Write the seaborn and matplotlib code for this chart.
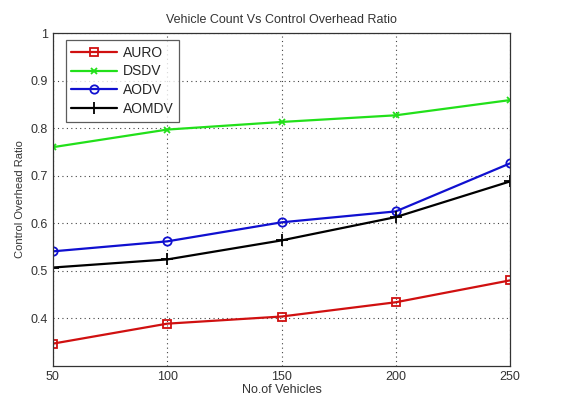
import matplotlib
matplotlib.use("Agg")
import matplotlib.pyplot as plt
import seaborn as sns
import pandas as pd

vehicles = [50, 100, 150, 200, 250]
auro = [0.347, 0.389, 0.404, 0.434, 0.480]
dsdv = [0.760, 0.797, 0.813, 0.827, 0.859]
aodv = [0.541, 0.562, 0.602, 0.625, 0.726]
aomdv = [0.507, 0.524, 0.564, 0.613, 0.688]
series_names = ["AURO", "DSDV", "AODV", "AOMDV"]

sns.set_theme(style="white")
plt.rcParams['font.family'] = ['Liberation Sans', 'DejaVu Sans']

df = pd.DataFrame({
    "x": vehicles * 4,
    "y": auro + dsdv + aodv + aomdv,
    "protocol": sum([[n] * len(vehicles) for n in series_names], []),
})

colors = {"AURO": "#d01010", "DSDV": "#22e01a", "AODV": "#1010d0", "AOMDV": "#000000"}
markers = {"AURO": "s", "DSDV": "x", "AODV": "o", "AOMDV": "+"}
msizes = {"AURO": 6, "DSDV": 4, "AODV": 6, "AOMDV": 8}

fig = plt.figure(figsize=(5.63, 4.0), dpi=100)
ax = fig.add_axes([0.094, 0.085, 0.812, 0.8325])

for name in series_names:
    sub = df[df.protocol == name]
    sns.lineplot(data=sub, x="x", y="y", ax=ax, color=colors[name], marker=markers[name],
                 markersize=msizes[name], markerfacecolor="none",
                 markeredgecolor=colors[name], markeredgewidth=1.3, linewidth=1.6, label=name)

ax.set_xlim(50, 250)
ax.set_ylim(0.3, 1.0)
ax.set_xticks(vehicles)
ax.set_yticks([0.4, 0.5, 0.6, 0.7, 0.8, 0.9, 1.0])
ax.set_yticklabels(["0.4", "0.5", "0.6", "0.7", "0.8", "0.9", "1"])
ax.grid(True, linestyle=(0, (1, 3)), color="#444444", linewidth=0.8)
ax.tick_params(direction="in", length=4, labelsize=9, colors="#333333", labelcolor="#333333")
for s in ax.spines.values():
    s.set_color("#333333")
    s.set_linewidth(0.9)
ax.set_xlabel("No.of Vehicles", fontsize=9, color="#333333", labelpad=1)
ax.set_ylabel("Control Overhead Ratio", fontsize=8, color="#333333", labelpad=4)
ax.set_title("Vehicle Count Vs Control Overhead Ratio", fontsize=9, color="#333333", pad=7)

leg = ax.legend(loc="upper left", fontsize=10, frameon=True, fancybox=False, edgecolor="#333333",
                borderpad=0.4, labelspacing=0.35, handlelength=3.3, handletextpad=0.4,
                bbox_to_anchor=(0.028, 0.979), borderaxespad=0)
leg.get_frame().set_linewidth(0.9)

fig.savefig("out.png", dpi=100)
